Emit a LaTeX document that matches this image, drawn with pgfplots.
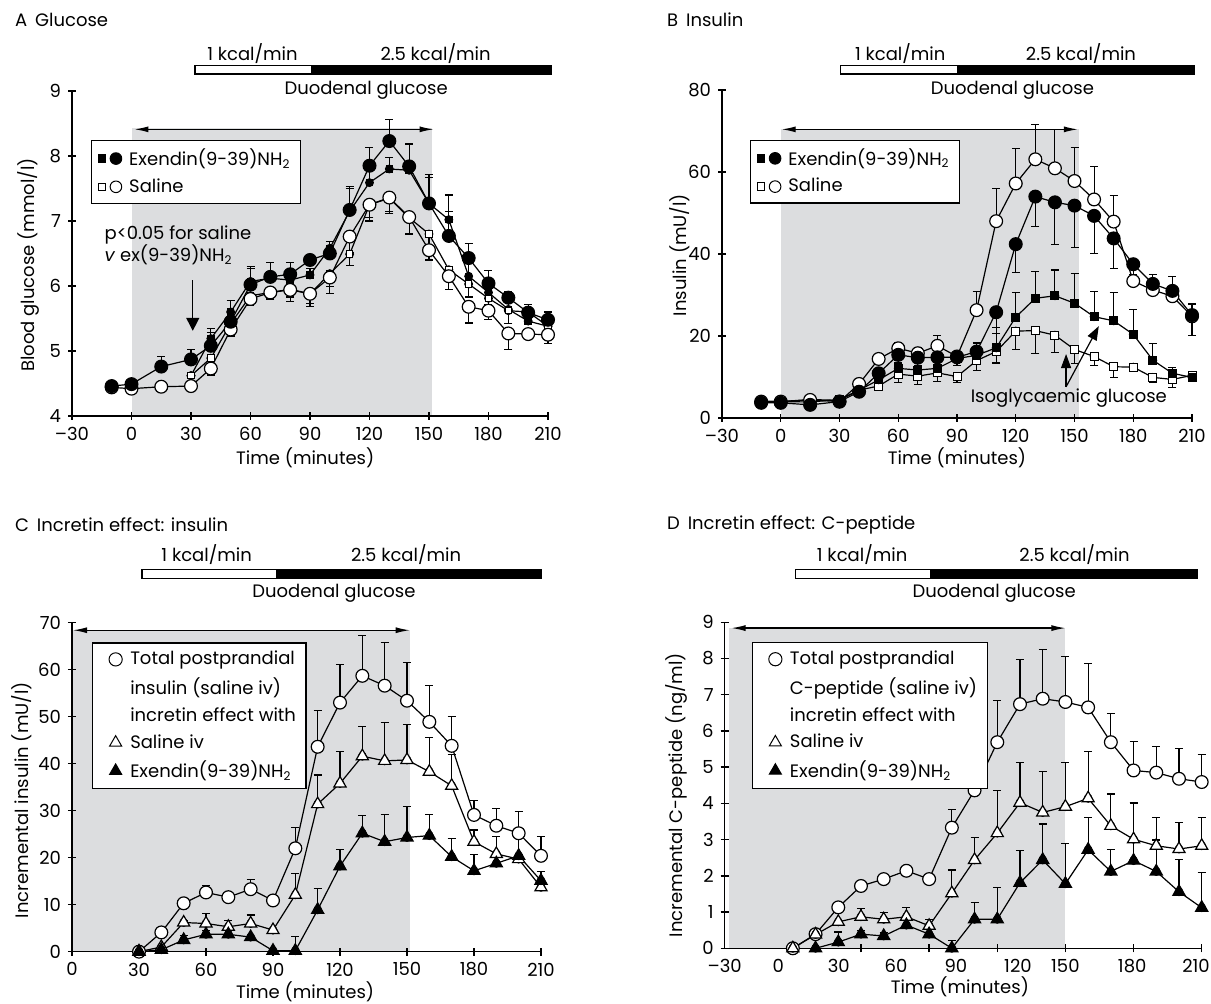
\documentclass[border=0pt]{standalone}
\usepackage{fontspec}
\setmainfont{Poppins}
\usepackage{pgfplots}
\pgfplotsset{compat=1.18}
\usepackage{pgfplotstable}
\usetikzlibrary{arrows.meta}
\definecolor{bggray}{RGB}{220,221,223}
\newcommand\fsz{\fontsize{9}{10.8}\selectfont}

% ---------------- Panel A: glucose ----------------
\pgfplotstableread{
t v e
-10 4.46 0
0 4.49 0.03
15 4.76 0.15
30 4.87 0.15
40 5.08 0.26
50 5.45 0.15
60 6.02 0.28
70 6.14 0.22
80 6.18 0.18
90 6.40 0.06
100 6.50 0.10
110 7.17 0.36
120 7.85 0.28
130 8.23 0.33
140 7.84 0.35
150 7.27 0.44
160 6.77 0.37
170 6.43 0.22
180 6.04 0.20
190 5.82 0.09
200 5.59 0.13
210 5.48 0.12
}\AexC
\pgfplotstableread{
t v e
30 4.62 0
40 5.19 0.1
50 5.60 0.18
60 6.07 0.2
70 6.12 0.1
80 6.09 0.15
90 6.17 0.1
100 6.58 0.1
110 7.15 0.35
120 7.59 0.3
130 7.80 0.17
140 7.78 0.4
150 7.27 0.4
160 7.02 0.38
170 6.15 0.2
180 5.90 0.1
190 5.64 0.1
200 5.46 0.15
210 5.38 0.1
}\AexS
\pgfplotstableread{
t v e
30 4.62 0
40 4.89 0.1
50 5.42 0.1
60 5.85 0.1
70 5.90 0.1
80 5.95 0.12
90 5.88 0.15
100 6.19 0.2
110 6.49 0.17
120 7.25 0.2
130 7.35 0.2
140 7.05 0.25
150 6.80 0.2
160 6.25 0.15
170 6.03 0.2
180 5.81 0.1
190 5.62 0.2
200 5.60 0.08
210 5.38 0.1
}\AsalS
\pgfplotstableread{
t v e
-10 4.44 0
0 4.42 0
15 4.45 0.08
30 4.46 0
40 4.73 0.1
50 5.33 0.1
60 5.80 0.1
70 5.90 0.08
80 5.94 0.18
90 5.88 0.2
100 6.13 0.25
110 6.76 0.25
120 7.25 0.25
130 7.36 0.25
140 7.06 0.25
150 6.55 0.15
160 6.15 0.2
170 5.68 0.25
180 5.62 0.13
190 5.27 0.25
200 5.26 0.08
210 5.25 0.13
}\AsalC

% ---------------- Panel B: insulin ----------------
\pgfplotstableread{
t v e
-10 3.7 0
0 3.7 0
15 3.2 0
30 4.0 0
40 6.4 0.5
50 10.9 1.5
60 15.4 2
70 14.7 2
80 14.8 2
90 14.8 2
100 16.2 3
110 25.8 5.2
120 42.4 7
130 54.0 7.2
140 52.6 10.2
150 51.8 10.3
160 49.3 9.1
170 43.8 7.3
180 37.5 3
190 32.7 2.5
200 31.0 2.5
210 25.1 5
}\BexC
\pgfplotstableread{
t v e
-10 4 0
0 4 0
15 4.4 0
30 4 0
40 8.3 0.5
50 14.4 1
60 17.0 1.5
70 15.8 1.5
80 17.6 2.5
90 15.0 1
100 26.3 4.5
110 48.0 8
120 57.2 8.6
130 63.1 8.5
140 60.9 9.5
150 57.8 8.1
160 53.3 8
170 47.9 6.3
180 33.4 1.5
190 31.2 3.7
200 29.7 4.7
210 24.8 3
}\BsalC
\pgfplotstableread{
t v e
-10 4 0
0 4 0
15 3.9 0
30 4.5 0
40 6.8 0.5
50 9.3 1
60 12.1 2
70 11.7 2
80 12.1 2
90 14.5 1.5
100 15.3 3
110 17.1 5
120 24.6 6
130 29.2 6.5
140 29.8 6.3
150 28.0 7.3
160 24.7 6.1
170 23.7 7
180 20.4 6
190 14.1 4
200 10.9 1.5
210 9.9 1.5
}\BexS
\pgfplotstableread{
t v e
-10 4 0
0 4 0
15 4.5 0
30 4.3 0
40 6.8 0.5
50 7.8 1
60 10.7 2
70 10.2 2
80 11.0 2
90 10.1 1.5
100 14.0 2.5
110 16.2 2.8
120 21.2 4.6
130 21.3 5.5
140 20.2 4.3
150 16.7 3.5
160 15.0 2.3
170 12.5 2.7
180 12.4 1
190 9.9 1.2
200 9.4 1.9
210 10.4 1
}\BsalS

% ---------------- Panel C: incretin effect insulin ----------------
\pgfplotstableread{
t v e
30 0 0
40 4.1 0
50 10.3 0
60 12.6 1.5
70 11.6 0.8
80 13.3 2
90 10.9 0
100 22.0 4.4
110 43.6 7.8
120 53.0 8.2
130 58.7 8.5
140 56.6 9.1
150 53.4 8.1
160 48.9 7.8
170 43.8 6.2
180 29.1 3
190 26.8 3.7
200 25.2 4.6
210 20.4 4.1
}\Ctot
\pgfplotstableread{
t v e
30 0 0
40 1.0 0
50 6.2 0.5
60 6.0 2.2
70 5.3 1.3
80 6.0 1.8
90 4.6 0
100 12.1 4.6
110 31.4 6.2
120 35.8 6.8
130 41.6 6.3
140 40.6 8.1
150 40.8 7.6
160 38.3 7.3
170 35.3 6.6
180 23.4 2.5
190 20.8 3.7
200 19.7 1
210 13.7 1
}\Csal
\pgfplotstableread{
t v e
30 0 0
40 0.4 0
50 2.5 1
60 3.7 0.8
70 3.7 0
80 3.1 0
90 0.2 0
100 0.2 3
110 8.9 4.6
120 18.2 3.6
130 25.2 3.7
140 23.4 5.8
150 24.3 6.6
160 24.7 4.5
170 20.2 3.8
180 17.2 3.5
190 18.8 2
200 20.4 4
210 15.1 2
}\Cex

% ---------------- Panel D: incretin effect C-peptide ----------------
\pgfplotstableread{
t v e
30 0 0
40 0.39 0
50 1.13 0
60 1.72 0
70 1.91 0
80 2.14 0
90 1.91 0
100 3.33 0.49
110 4.36 0.62
120 5.69 1.14
130 6.74 1.24
140 6.89 1.35
150 6.80 1.26
160 6.65 1.22
170 5.69 0.8
180 4.91 0.8
190 4.85 0.72
200 4.68 0.84
210 4.59 0.77
}\Dtot
\pgfplotstableread{
t v e
30 0 0
40 0.38 0
50 0.73 0
60 0.87 0.23
70 0.80 0.2
80 0.87 0.25
90 0.62 0.18
100 1.52 0.64
110 2.44 0.63
120 3.18 1.17
130 4.02 1.11
140 3.75 1.13
150 3.91 1.22
160 4.14 1.29
170 3.38 0.88
180 3.01 1.0
190 2.83 0.78
200 2.74 0.73
210 2.83 0.78
}\Dsal
\pgfplotstableread{
t v e
40 0 0
50 0.17 0.28
60 0.39 0.1
70 0.34 0.1
80 0.64 0.16
90 0.39 0
100 0 0.21
110 0.80 0.46
120 0.80 0.87
130 1.81 0.88
140 2.44 0.99
150 1.78 1.12
160 2.72 0.89
170 2.12 0.61
180 2.42 1.6
190 2.12 0.87
200 1.56 0.9
210 1.12 0.96
}\Dex

\tikzset{
  arr/.style={{Latex[length=7pt,width=3pt]}-{Latex[length=7pt,width=3pt]}, line width=0.6pt, black},
}
\pgfplotsset{
  pan/.style={scale only axis, axis lines=left, axis line style={-, line width=0.7pt},
    axis on top, clip=false, enlargelimits=false,
    tick style={line width=0.7pt, black}, major tick length=4pt,
    tick label style={font=\fsz}, label style={font=\fsz},
    /pgf/number format/assume math mode=true,
    legend style={draw=black, line width=0.6pt, fill=white, font=\fsz,
      inner xsep=3pt, inner ysep=2pt, row sep=1pt, column sep=1.5pt, cells={anchor=west}},
    legend cell align=left},
  eb/.style={forget plot, only marks, mark=none,
    error bars/y dir=#1, error bars/y explicit,
    error bars/error bar style={line width=0.55pt, draw=black},
    error bars/error mark options={rotate=90, mark size=2pt, line width=0.55pt, draw=black}},
  dl/.style={forget plot, black, line width=0.6pt},
  FC/.style={dl, mark=*, mark size=3.2pt, mark options={solid, fill=black, draw=black, line width=0.6pt}},
  OC/.style={dl, mark=*, mark size=3.2pt, mark options={solid, fill=white, draw=black, line width=0.6pt}},
  FS/.style={dl, mark=square*, mark size=#1, mark options={solid, fill=black, draw=black, line width=0.5pt}},
  OS/.style={dl, mark=square*, mark size=#1, mark options={solid, fill=white, draw=black, line width=0.5pt}},
  FT/.style={dl, mark=triangle*, mark size=3.5pt, mark options={solid, fill=black, draw=black, line width=0.6pt}},
  OT/.style={dl, mark=triangle*, mark size=3.5pt, mark options={solid, fill=white, draw=black, line width=0.6pt}},
}

\begin{document}
\begin{tikzpicture}[font=\fsz]
\useasboundingbox (0,0) rectangle (605.5pt,502pt);

\node[anchor=west] at (4pt,492pt) {A\hspace{4pt}Glucose};
\node[anchor=west] at (330pt,492pt) {B\hspace{4pt}Insulin};
\node[anchor=west] at (4pt,239.5pt) {C\hspace{4pt}Incretin effect: insulin};
\node[anchor=west] at (330pt,239.5pt) {D\hspace{4pt}Incretin effect: C-peptide};

% ===== A =====
\begin{axis}[pan, at={(36pt,294pt)}, anchor=south west, width=238pt, height=162.5pt,
  xmin=-30, xmax=210, ymin=4, ymax=9,
  xtick={-30,0,30,60,90,120,150,180,210}, xticklabels={--30,0,30,60,90,120,150,180,210},
  ytick={4,5,6,7,8,9},
  xlabel={Time (minutes)}, ylabel={Blood glucose (mmol/l)},
  xlabel style={at={(axis description cs:0.49,-0.129)}, anchor=center},
  ylabel style={at={(axis description cs:-0.092,0.465)}, anchor=center},
  legend style={at={(0.040,0.849)}, anchor=north west}]
\fill[bggray] (axis cs:0,4) rectangle (axis cs:151.6,8.43);
\draw[arr] (axis cs:1.5,8.41) -- (axis cs:152.3,8.41);
\draw[line width=0.6pt, fill=white] (axis cs:32,9.26) rectangle (axis cs:91,9.39);
\draw[line width=0.6pt, fill=black] (axis cs:91,9.26) rectangle (axis cs:211.7,9.39);
\node at (axis cs:61,9.58) {1 kcal/min};
\node at (axis cs:153.3,9.58) {2.5 kcal/min};
\node at (axis cs:118.3,9.015) {Duodenal glucose};
\node[anchor=west] at (axis cs:-17.1,6.785) {p<0.05 for saline};
\node[anchor=west] at (axis cs:-17.1,6.48) {\textit{v} ex(9-39)NH\textsubscript{2}};
\draw[-{Triangle[length=6.5pt,width=6.5pt]}, line width=0.7pt] (axis cs:30.9,6.09) -- (axis cs:30.9,5.31);

\addplot[eb=plus] table[x=t,y=v,y error=e] {\AexS};
\addplot[FS=1.6pt] table[x=t,y=v] {\AexS};
\addplot[eb=minus] table[x=t,y=v,y error=e] {\AsalS};
\addplot[OS=1.6pt] table[x=t,y=v] {\AsalS};
\addplot[eb=minus] table[x=t,y=v,y error=e] {\AsalC};
\addplot[OC] table[x=t,y=v] {\AsalC};
\addplot[eb=plus] table[x=t,y=v,y error=e] {\AexC};
\addplot[FC] table[x=t,y=v] {\AexC};

\addlegendimage{legend image code/.code={\draw[black,fill=black,line width=0.5pt] (0pt,-1.85pt) rectangle (3.7pt,1.85pt); \draw[black,fill=black,line width=0.5pt] (8.9pt,0pt) circle (2.9pt);}}
\addlegendentry{Exendin(9-39)NH\textsubscript{2}}
\addlegendimage{legend image code/.code={\draw[black,fill=white,line width=0.5pt] (0pt,-1.85pt) rectangle (3.7pt,1.85pt); \draw[black,fill=white,line width=0.5pt] (8.9pt,0pt) circle (2.9pt);}}
\addlegendentry{Saline}
\end{axis}

% ===== B =====
\begin{axis}[pan, at={(361pt,293pt)}, anchor=south west, width=235pt, height=164pt,
  xmin=-30, xmax=210, ymin=0, ymax=80,
  xtick={-30,0,30,60,90,120,150,180,210}, xticklabels={--30,0,30,60,90,120,150,180,210},
  ytick={0,20,40,60,80},
  xlabel={Time (minutes)}, ylabel={Insulin (mU/l)},
  xlabel style={at={(axis description cs:0.5,-0.122)}, anchor=center},
  ylabel style={at={(axis description cs:-0.089,0.497)}, anchor=center},
  legend style={at={(0.060,0.848)}, anchor=north west}]
\fill[bggray] (axis cs:0,0) rectangle (axis cs:152.2,70.4);
\draw[arr] (axis cs:0.5,70.4) -- (axis cs:151.7,70.4);
\draw[line width=0.6pt, fill=white] (axis cs:30.5,83.9) rectangle (axis cs:90.5,85.9);
\draw[line width=0.6pt, fill=black] (axis cs:90.5,83.9) rectangle (axis cs:211,85.9);
\node at (axis cs:61,88.95) {1 kcal/min};
\node at (axis cs:153.3,88.95) {2.5 kcal/min};
\node at (axis cs:118.3,80.0) {Duodenal glucose};

\addplot[eb=minus] table[x=t,y=v,y error=e] {\BsalS};
\addplot[OS=2pt] table[x=t,y=v] {\BsalS};
\addplot[eb=plus] table[x=t,y=v,y error=e] {\BexS};
\addplot[FS=2pt] table[x=t,y=v] {\BexS};
\addplot[eb=plus] table[x=t,y=v,y error=e] {\BsalC};
\addplot[OC] table[x=t,y=v] {\BsalC};
\addplot[eb=minus] table[x=t,y=v,y error=e] {\BexC};
\addplot[FC] table[x=t,y=v] {\BexC};

\node at (axis cs:147.1,4.9) {Isoglycaemic glucose};
\draw[-{Triangle[length=7pt,width=5pt]}, line width=0.6pt] (axis cs:145.7,7.6) -- (axis cs:145.7,15.6);
\draw[-{Triangle[length=7pt,width=5pt]}, line width=0.6pt] (axis cs:145.7,7.6) -- (axis cs:162.4,22.4);

\addlegendimage{legend image code/.code={\draw[black,fill=black,line width=0.5pt] (0pt,-1.85pt) rectangle (3.7pt,1.85pt); \draw[black,fill=black,line width=0.5pt] (8.9pt,0pt) circle (2.9pt);}}
\addlegendentry{Exendin(9-39)NH\textsubscript{2}}
\addlegendimage{legend image code/.code={\draw[black,fill=white,line width=0.5pt] (0pt,-1.85pt) rectangle (3.7pt,1.85pt); \draw[black,fill=white,line width=0.5pt] (8.9pt,0pt) circle (2.9pt);}}
\addlegendentry{Saline}
\end{axis}

% ===== C =====
\begin{axis}[pan, at={(36pt,26.15pt)}, anchor=south west, width=234.5pt, height=164.5pt,
  xmin=0, xmax=210, ymin=0, ymax=70,
  xtick={0,30,60,90,120,150,180,210},
  ytick={0,10,20,30,40,50,60,70},
  xlabel={Time (minutes)}, ylabel={Incremental insulin (mU/l)},
  xlabel style={at={(axis description cs:0.497,-0.1225)}, anchor=center},
  ylabel style={at={(axis description cs:-0.107,0.461)}, anchor=center},
  legend style={at={(0.0426,0.940)}, anchor=north west, row sep=1pt, column sep=2pt}]
\fill[bggray] (axis cs:0,0) rectangle (axis cs:151.2,68.4);
\draw[arr] (axis cs:0.5,68.4) -- (axis cs:151.2,68.4);
\draw[line width=0.6pt, fill=white] (axis cs:31.3,79.4) rectangle (axis cs:91.5,81.3);
\draw[line width=0.6pt, fill=black] (axis cs:91.5,79.4) rectangle (axis cs:210,81.3);
\node at (axis cs:60.3,84.4) {1 kcal/min};
\node at (axis cs:149.6,84.4) {2.5 kcal/min};
\node at (axis cs:117.3,76.3) {Duodenal glucose};

\addplot[eb=plus] table[x=t,y=v,y error=e] {\Ctot};
\addplot[OC] table[x=t,y=v] {\Ctot};
\addplot[eb=plus] table[x=t,y=v,y error=e] {\Csal};
\addplot[OT] table[x=t,y=v] {\Csal};
\addplot[eb=plus] table[x=t,y=v,y error=e] {\Cex};
\addplot[FT] table[x=t,y=v] {\Cex};

\addlegendimage{only marks, mark=*, mark size=3.3pt, mark options={fill=white, draw=black, line width=0.5pt}}
\addlegendentry{Total postprandial}
\addlegendimage{empty legend}
\addlegendentry{insulin (saline iv)}
\addlegendimage{empty legend}
\addlegendentry{incretin effect with}
\addlegendimage{only marks, mark=triangle*, mark size=3.5pt, mark options={fill=white, draw=black, line width=0.5pt}}
\addlegendentry{Saline iv}
\addlegendimage{only marks, mark=triangle*, mark size=3.5pt, mark options={fill=black, draw=black, line width=0.5pt}}
\addlegendentry{Exendin(9-39)NH\textsubscript{2}}
\end{axis}

% ===== D =====
\begin{axis}[pan, at={(362.35pt,27.85pt)}, anchor=south west, width=238.5pt, height=163pt,
  xmin=0, xmax=210, ymin=0, ymax=9,
  xtick={0,23.6,50.2,75.4,101.8,129.1,150,179.4,207.5},
  xticklabels={--30,0,30,60,90,120,150,180,210},
  xtick style={draw=none},
  extra x ticks={30,60,90,120,150,180,210},
  extra x tick style={xticklabel={}, xtick style={draw=black}},
  ytick={0,1,2,3,4,5,6,7,8,9},
  xlabel={Time (minutes)}, ylabel={Incremental C-peptide (ng/ml)},
  xlabel style={at={(axis description cs:0.493,-0.119)}, anchor=center},
  ylabel style={at={(axis description cs:-0.102,0.47)}, anchor=center},
  legend style={at={(0.0566,0.9387)}, anchor=north west, row sep=1pt, column sep=2pt}]
\fill[bggray] (axis cs:2,0) rectangle (axis cs:150,8.84);
\draw[arr] (axis cs:3,8.84) -- (axis cs:150,8.84);
\draw[line width=0.6pt, fill=white] (axis cs:31,10.21) rectangle (axis cs:90.5,10.46);
\draw[line width=0.6pt, fill=black] (axis cs:90.5,10.21) rectangle (axis cs:208,10.46);
\node at (axis cs:60.5,10.86) {1 kcal/min};
\node at (axis cs:154,10.86) {2.5 kcal/min};
\node at (axis cs:118.6,9.81) {Duodenal glucose};

\addplot[eb=plus] table[x=t,y=v,y error=e] {\Dtot};
\addplot[OC] table[x=t,y=v] {\Dtot};
\addplot[eb=plus] table[x=t,y=v,y error=e] {\Dsal};
\addplot[OT] table[x=t,y=v] {\Dsal};
\addplot[eb=plus] table[x=t,y=v,y error=e] {\Dex};
\addplot[FT] table[x=t,y=v] {\Dex};

\addlegendimage{only marks, mark=*, mark size=3.3pt, mark options={fill=white, draw=black, line width=0.5pt}}
\addlegendentry{Total postprandial}
\addlegendimage{empty legend}
\addlegendentry{C-peptide (saline iv)}
\addlegendimage{empty legend}
\addlegendentry{incretin effect with}
\addlegendimage{only marks, mark=triangle*, mark size=3.5pt, mark options={fill=white, draw=black, line width=0.5pt}}
\addlegendentry{Saline iv}
\addlegendimage{only marks, mark=triangle*, mark size=3.5pt, mark options={fill=black, draw=black, line width=0.5pt}}
\addlegendentry{Exendin(9-39)NH\textsubscript{2}}
\end{axis}
\end{tikzpicture}
\end{document}
